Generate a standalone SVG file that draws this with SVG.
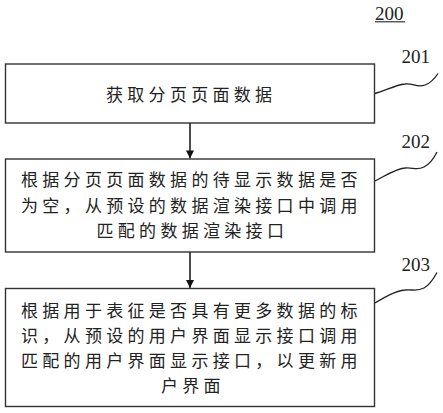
<svg xmlns="http://www.w3.org/2000/svg" width="443" height="413" viewBox="0 0 443 413">
<defs>
<style>
.box{fill:#fff;stroke:#333;stroke-width:1.4}
.t{font-family:"Noto Sans CJK SC","Liberation Serif",sans-serif;font-size:17px;letter-spacing:4.3px;fill:#222}
.num{font-family:"Liberation Serif",serif;font-size:19px;fill:#222}
.lead{fill:none;stroke:#222;stroke-width:1.3}
.arr{stroke:#111;stroke-width:1.5;fill:none}
</style>
<marker id="ah" viewBox="0 0 10 10" refX="10" refY="5" markerWidth="9" markerHeight="8" markerUnits="userSpaceOnUse" orient="auto">
<path d="M0,0 L10,5 L0,10 Z" fill="#111"/>
</marker>
</defs>
<rect width="443" height="413" fill="#fff"/>
<g id="title">
<text class="num" x="375" y="19.5">200</text>
<line x1="375" y1="21.8" x2="405" y2="21.8" stroke="#222" stroke-width="1.1"/>
</g>
<g id="connectors">
<line class="arr" x1="190" y1="123" x2="190" y2="158.5" marker-end="url(#ah)"/>
<line class="arr" x1="190" y1="252" x2="190" y2="288" marker-end="url(#ah)"/>
<path class="lead" d="M375,93.5 C385,91 395,85 405,84 C413,83 417,88 425,85 C431,83 435,78 438,73.5"/>
<path class="lead" d="M375,181 C385,176 395,169 405,168 C413,167 416,171 424,167 C430,164 434,158 437,152"/>
<path class="lead" d="M375,303 C385,297 395,291 405,290 C413,289 416,292 424,288 C430,285 434,278 437,272.5"/>
</g>
<g id="n201">
<rect class="box" x="5.5" y="64" width="369" height="59"/>
<text class="t" x="106" y="100.5">获取分页页面数据</text>
<text class="num" x="401.5" y="62.7">201</text>
</g>
<g id="n202">
<rect class="box" x="5.5" y="159" width="369" height="93"/>
<text class="t" x="21" y="186">根据分页页面数据的待显示数据是否</text>
<text class="t" x="21" y="211.5">为空，从预设的数据渲染接口中调用</text>
<text class="t" x="96.5" y="237">匹配的数据渲染接口</text>
<text class="num" x="401.5" y="148.3">202</text>
</g>
<g id="n203">
<rect class="box" x="5.5" y="288.5" width="369" height="118"/>
<text class="t" x="21" y="317">根据用于表征是否具有更多数据的标</text>
<text class="t" x="21" y="342">识，从预设的用户界面显示接口调用</text>
<text class="t" x="21" y="367">匹配的用户界面显示接口，以更新用</text>
<text class="t" x="161" y="392">户界面</text>
<text class="num" x="401.5" y="270.5">203</text>
</g>
</svg>
